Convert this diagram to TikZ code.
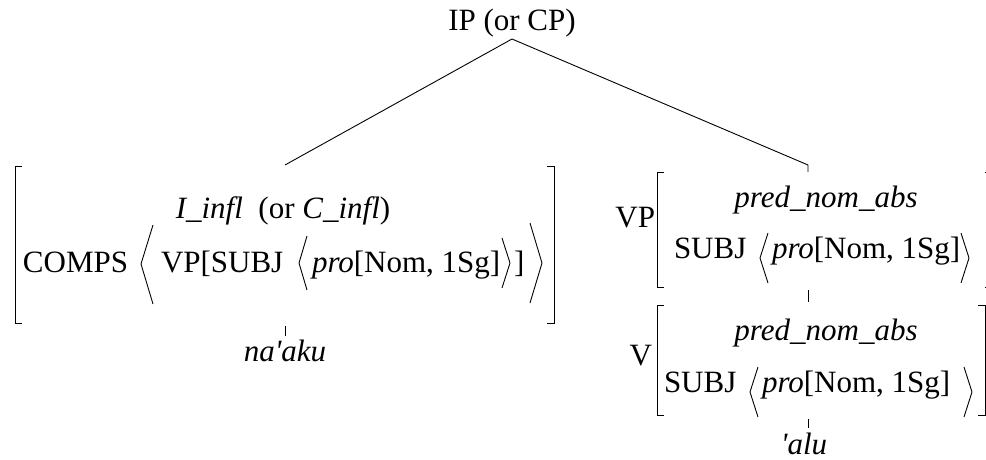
\documentclass[tikz,border=0pt]{standalone}
\usepackage{fontspec}
\setmainfont{Liberation Serif}
\begin{document}
\begin{tikzpicture}[x=1pt,y=-1pt,
  every node/.style={font=\fontsize{31}{37}\selectfont, inner sep=0pt, outer sep=0pt},
  ln/.style={line width=0.9pt, line join=miter},
  tk/.style={line width=0.9pt}]
\useasboundingbox (0,0) rectangle (986,460);
\clip (0,0) rectangle (986,460);
% root
\node[anchor=base] (root) at (512,31) {IP (or CP)};
\coordinate (apex) at (512,39);
\coordinate (ltop) at (285,165);
\coordinate (rtop) at (808,165);
\coordinate (rtick) at (808,172);
\draw[ln] (apex) -- (ltop);
\draw[ln] (apex) -- (rtop) -- (rtick);
% left AVM
\draw[ln] (22,166) -- (15,166) -- (15,323) -- (22,323);
\draw[ln] (547,166) -- (554,166) -- (554,323) -- (547,323);
\node[anchor=base] (infl) at (283,218) {\textit{I\_infl}\ \ (or \textit{C\_infl})};
\node[anchor=base west] (comps) at (23,272) {COMPS};
\draw[ln] (153,225) -- (141,264) -- (153,304);
\node[anchor=base west] (vpsubj) at (161,272) {VP[SUBJ};
\draw[ln] (307,236) -- (299,263) -- (307,290);
\node[anchor=base west] (pro1) at (312,272) {\textit{pro}[Nom, 1Sg]};
\draw[ln] (502,238) -- (510,263) -- (502,288);
\node[anchor=base west] (rb1) at (514,272) {]};
\draw[ln] (530,223) -- (542,263) -- (530,303);
\coordinate (lt1) at (285,326);
\coordinate (lt2) at (285,336);
\draw[tk] (lt1) -- (lt2);
\node[anchor=base] (naaku) at (285,361) {\textit{na\textquotesingle aku}};
% VP AVM
\node[anchor=base east] (vplab) at (655,227) {VP};
\draw[ln] (664,172) -- (657,172) -- (657,287) -- (664,287);
\draw[ln] (985,172) -- (992,172) -- (992,287) -- (985,287);
\node[anchor=base] (pna1) at (826,207) {\textit{pred\_nom\_abs}};
\node[anchor=base west] (subj1) at (674,258) {SUBJ};
\draw[ln] (768,233) -- (760,258) -- (768,283);
\node[anchor=base west] (pro2) at (772,258) {\textit{pro}[Nom, 1Sg]};
\draw[ln] (961,233) -- (969,258) -- (961,283);
\coordinate (mt1) at (808,290);
\coordinate (mt2) at (808,302);
\draw[tk] (mt1) -- (mt2);
% V AVM
\node[anchor=base east] (vlab) at (652,365) {V};
\draw[ln] (664,305) -- (657,305) -- (657,415) -- (664,415);
\draw[ln] (978,305) -- (985,305) -- (985,415) -- (978,415);
\node[anchor=base] (pna2) at (826,340) {\textit{pred\_nom\_abs}};
\node[anchor=base west] (subj2) at (664,392) {SUBJ};
\draw[ln] (758,367) -- (750,392) -- (758,417);
\node[anchor=base west] (pro3) at (762,392) {\textit{pro}[Nom, 1Sg]};
\draw[ln] (964,367) -- (972,392) -- (964,417);
\coordinate (bt1) at (808,419);
\coordinate (bt2) at (808,428);
\draw[tk] (bt1) -- (bt2);
\node[anchor=base] (alu) at (804,454) {\textit{\textquotesingle alu}};
\end{tikzpicture}
\end{document}
